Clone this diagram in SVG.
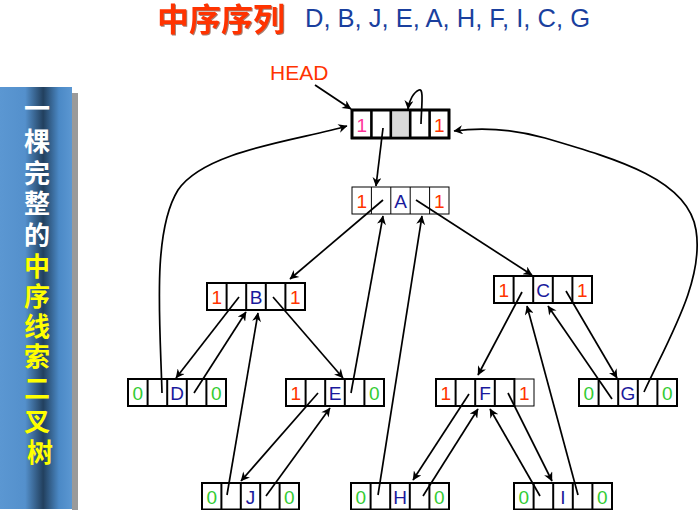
<svg xmlns="http://www.w3.org/2000/svg" width="698" height="510" viewBox="0 0 698 510">
<defs>
<linearGradient id="band" x1="0" y1="0" x2="1" y2="0">
<stop offset="0" stop-color="#5b97d2"/>
<stop offset="0.35" stop-color="#5490cc"/>
<stop offset="0.6" stop-color="#22405e"/>
<stop offset="0.82" stop-color="#4b89c6"/>
<stop offset="1" stop-color="#5b97d2"/>
</linearGradient>
<marker id="arr" viewBox="0 0 10 10" refX="9.5" refY="5" markerWidth="10" markerHeight="9" markerUnits="userSpaceOnUse" orient="auto">
<path d="M0,0 L10,5 L0,10 L3,5 z" fill="#000"/>
</marker>
</defs>
<style>
.box{fill:#fff;stroke:#000;stroke-width:2}
.thin{fill:#fff;stroke:#000;stroke-width:1}
.hd{fill:#fff;stroke:#000;stroke-width:2.6}
.div{stroke:#000;stroke-width:2}
.divt{stroke:#000;stroke-width:1}
.divh{stroke:#000;stroke-width:2.6}
.t{font-family:"Liberation Sans",Arial,sans-serif;font-size:19px;text-anchor:middle}
.r{fill:#ff3300}
.g{fill:#33cc33}
.b{fill:#1a1a9c}
.p{fill:#ff3399}
.c line,.c path{fill:none;stroke:#000;stroke-width:1.7;marker-end:url(#arr)}
.side{font-family:"Noto Sans CJK SC",sans-serif;font-size:26px;font-weight:bold;text-anchor:middle}
</style>

<g id="banner">
<rect x="72" y="93" width="6" height="417" fill="#9a9a9a"/>
<rect x="0" y="87" width="72" height="422" fill="url(#band)"/>
<text class="side">
<tspan x="40" y="118" fill="#ffffff">一</tspan>
<tspan x="40" y="151" fill="#ffffff">棵</tspan>
<tspan x="40" y="183" fill="#ffffff">完</tspan>
<tspan x="40" y="213" fill="#ffffff">整</tspan>
<tspan x="40" y="245" fill="#ffffff">的</tspan>
<tspan x="40" y="276" fill="#ffff00">中</tspan>
<tspan x="40" y="306" fill="#ffff00">序</tspan>
<tspan x="40" y="336" fill="#ffff00">线</tspan>
<tspan x="40" y="366" fill="#ffff00">索</tspan>
<tspan x="40" y="398" fill="#ffff00">二</tspan>
<tspan x="40" y="431" fill="#ffff00">叉</tspan>
<tspan x="40" y="462" fill="#ffff00">树</tspan>
</text>
</g>

<g id="title">
<text x="157" y="31" font-family="Noto Sans CJK SC,sans-serif" font-size="32" font-weight="bold" fill="#ff3300" style="filter:drop-shadow(1px 1px 0.5px rgba(90,20,0,0.55))">中序序列</text>
<text x="305" y="27" font-family="Liberation Sans,Arial,sans-serif" font-size="26" fill="#1a3f9e" textLength="285" lengthAdjust="spacingAndGlyphs">D, B, J, E, A, H, F, I, C, G</text>
</g>

<g id="head-label">
<text x="270" y="80" font-family="Liberation Sans,Arial,sans-serif" font-size="21" fill="#ff3300">HEAD</text>
</g>

<g id="node-head" transform="translate(352,110)">
<rect class="hd" x="0" y="0" width="97" height="28"/>
<rect x="38.8" y="0" width="19.4" height="28" fill="#d9d9d9"/>
<line class="divh" x1="19.4" y1="0" x2="19.4" y2="28"/>
<line class="divh" x1="38.8" y1="0" x2="38.8" y2="28"/>
<line class="divh" x1="58.2" y1="0" x2="58.2" y2="28"/>
<line class="divh" x1="77.6" y1="0" x2="77.6" y2="28"/>
<rect x="0" y="0" width="97" height="28" fill="none" stroke="#000" stroke-width="2.6"/>
<text class="t p" x="9.7" y="21.5" font-size="16">1</text>
<text class="t r" x="87.3" y="21.5" font-size="16">1</text>
</g>

<g id="node-A" transform="translate(352,187)">
<rect class="thin" x="0" y="0" width="97" height="27"/>
<line class="divt" x1="19.4" y1="0" x2="19.4" y2="27"/>
<line class="divt" x1="38.8" y1="0" x2="38.8" y2="27"/>
<line class="divt" x1="58.2" y1="0" x2="58.2" y2="27"/>
<line class="divt" x1="77.6" y1="0" x2="77.6" y2="27"/>
<text class="t r" x="9.7" y="20.5">1</text>
<text class="t b" x="48.5" y="20.5">A</text>
<text class="t r" x="87.3" y="20.5">1</text>
</g>

<g id="node-B" transform="translate(207,283)">
<rect class="box" x="0" y="0" width="98" height="27"/>
<line class="div" x1="19.6" y1="0" x2="19.6" y2="27"/>
<line class="div" x1="39.2" y1="0" x2="39.2" y2="27"/>
<line class="div" x1="58.8" y1="0" x2="58.8" y2="27"/>
<line class="div" x1="78.4" y1="0" x2="78.4" y2="27"/>
<text class="t r" x="9.8" y="21">1</text>
<text class="t b" x="49" y="21">B</text>
<text class="t r" x="88.2" y="21">1</text>
</g>

<g id="node-C" transform="translate(494,276)">
<rect class="box" x="0" y="0" width="98" height="27"/>
<line class="div" x1="19.6" y1="0" x2="19.6" y2="27"/>
<line class="div" x1="39.2" y1="0" x2="39.2" y2="27"/>
<line class="div" x1="58.8" y1="0" x2="58.8" y2="27"/>
<line class="div" x1="78.4" y1="0" x2="78.4" y2="27"/>
<text class="t r" x="9.8" y="21">1</text>
<text class="t b" x="49" y="21">C</text>
<text class="t r" x="88.2" y="21">1</text>
</g>

<g id="node-D" transform="translate(128,379)">
<rect class="box" x="0" y="0" width="98" height="27"/>
<line class="div" x1="19.6" y1="0" x2="19.6" y2="27"/>
<line class="div" x1="39.2" y1="0" x2="39.2" y2="27"/>
<line class="div" x1="58.8" y1="0" x2="58.8" y2="27"/>
<line class="div" x1="78.4" y1="0" x2="78.4" y2="27"/>
<text class="t g" x="9.8" y="21">0</text>
<text class="t b" x="49" y="21">D</text>
<text class="t g" x="88.2" y="21">0</text>
</g>

<g id="node-E" transform="translate(286,379)">
<rect class="box" x="0" y="0" width="98" height="27"/>
<line class="div" x1="19.6" y1="0" x2="19.6" y2="27"/>
<line class="div" x1="39.2" y1="0" x2="39.2" y2="27"/>
<line class="div" x1="58.8" y1="0" x2="58.8" y2="27"/>
<line class="div" x1="78.4" y1="0" x2="78.4" y2="27"/>
<text class="t r" x="9.8" y="21">1</text>
<text class="t b" x="49" y="21">E</text>
<text class="t g" x="88.2" y="21">0</text>
</g>

<g id="node-F" transform="translate(436,379)">
<rect class="thin" x="78.4" y="0" width="19.6" height="27"/>
<rect class="box" x="0" y="0" width="78.4" height="27"/>
<line class="div" x1="19.6" y1="0" x2="19.6" y2="27"/>
<line class="div" x1="39.2" y1="0" x2="39.2" y2="27"/>
<line class="div" x1="58.8" y1="0" x2="58.8" y2="27"/>
<text class="t r" x="9.8" y="21">1</text>
<text class="t b" x="49" y="21">F</text>
<text class="t r" x="88.2" y="21">1</text>
</g>

<g id="node-G" transform="translate(579,379)">
<rect class="box" x="0" y="0" width="98" height="27"/>
<line class="div" x1="19.6" y1="0" x2="19.6" y2="27"/>
<line class="div" x1="39.2" y1="0" x2="39.2" y2="27"/>
<line class="div" x1="58.8" y1="0" x2="58.8" y2="27"/>
<line class="div" x1="78.4" y1="0" x2="78.4" y2="27"/>
<text class="t g" x="9.8" y="21">0</text>
<text class="t b" x="49" y="21">G</text>
<text class="t g" x="88.2" y="21">0</text>
</g>

<g id="node-J" transform="translate(202,483)">
<rect class="box" x="0" y="0" width="97" height="26.5"/>
<line class="div" x1="19.4" y1="0" x2="19.4" y2="27"/>
<line class="div" x1="38.8" y1="0" x2="38.8" y2="27"/>
<line class="div" x1="58.2" y1="0" x2="58.2" y2="27"/>
<line class="div" x1="77.6" y1="0" x2="77.6" y2="27"/>
<text class="t g" x="9.7" y="21">0</text>
<text class="t b" x="48.5" y="21">J</text>
<text class="t g" x="87.3" y="21">0</text>
</g>

<g id="node-H" transform="translate(351,483)">
<rect class="box" x="0" y="0" width="98" height="26.5"/>
<line class="div" x1="19.6" y1="0" x2="19.6" y2="27"/>
<line class="div" x1="39.2" y1="0" x2="39.2" y2="27"/>
<line class="div" x1="58.8" y1="0" x2="58.8" y2="27"/>
<line class="div" x1="78.4" y1="0" x2="78.4" y2="27"/>
<text class="t g" x="9.8" y="21">0</text>
<text class="t b" x="49" y="21">H</text>
<text class="t g" x="88.2" y="21">0</text>
</g>

<g id="node-I" transform="translate(514,483)">
<rect class="box" x="0" y="0" width="98" height="26.5"/>
<line class="div" x1="19.6" y1="0" x2="19.6" y2="27"/>
<line class="div" x1="39.2" y1="0" x2="39.2" y2="27"/>
<line class="div" x1="58.8" y1="0" x2="58.8" y2="27"/>
<line class="div" x1="78.4" y1="0" x2="78.4" y2="27"/>
<text class="t g" x="9.8" y="21">0</text>
<text class="t b" x="49" y="21">I</text>
<text class="t g" x="88.2" y="21">0</text>
</g>

<g id="connectors" class="c">
<line x1="315" y1="85" x2="351" y2="109"/>
<path d="M421,124 C421.5,105 424,88 419,90 C414,92 409,100 408,109"/>
<line x1="383" y1="128" x2="376" y2="186"/>
<path d="M644,392 C670,336 704,280 696,230 C688,180 620,160 545,138 C505,127 475,128 454,131"/>
<path d="M162,393 C160,320 152,232 178,190 C205,150 300,140 347,126"/>
<line x1="383" y1="200" x2="290" y2="279"/>
<line x1="416" y1="200" x2="532" y2="275"/>
<line x1="239" y1="297" x2="176" y2="378"/>
<line x1="194" y1="393" x2="246" y2="312"/>
<line x1="273" y1="297" x2="343" y2="378"/>
<line x1="227" y1="495" x2="258" y2="313"/>
<line x1="318" y1="393" x2="241" y2="481"/>
<line x1="266" y1="496" x2="330" y2="408"/>
<line x1="351" y1="393" x2="383" y2="216"/>
<line x1="378" y1="495" x2="422" y2="216"/>
<line x1="522" y1="292" x2="478" y2="375"/>
<line x1="578" y1="495" x2="527" y2="306"/>
<line x1="612" y1="399" x2="548" y2="306"/>
<line x1="566" y1="291" x2="617" y2="378"/>
<line x1="469" y1="394" x2="413" y2="480"/>
<line x1="423" y1="496" x2="478" y2="409"/>
<line x1="540" y1="496" x2="490" y2="409"/>
<line x1="508" y1="393" x2="552" y2="481"/>
</g>
</svg>
